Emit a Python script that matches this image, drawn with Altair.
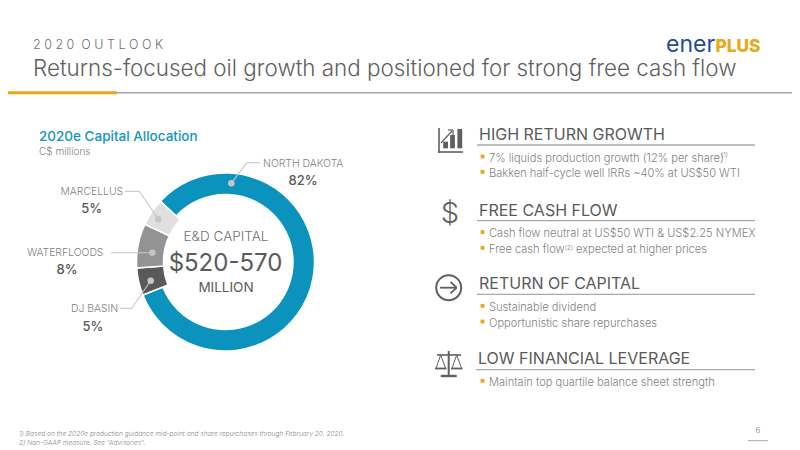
import math
import altair as alt
import pandas as pd

# ---- data ----
regions = ["NORTH DAKOTA", "DJ BASIN", "WATERFLOODS", "MARCELLUS"]
shares = [82, 5, 8, 5]
share_labels = ["82%", "5%", "8%", "5%"]
region_colors = ["#0c93bd", "#595959", "#939393", "#e0e0e0"]
order_idx = [0, 1, 2, 3]

FONT = "Inter"
OX, OY = 8, 8
TEXT_D = "#595959"
TEXT_M = "#828282"
RULE = "#a8a8a8"
GOLD = "#e8a917"


def txt(s, x, y, size, color=TEXT_D, weight=300, align="left", style="normal", font=FONT):
    return alt.Chart(pd.DataFrame({"t": [s]})).mark_text(
        font=font, fontSize=size, fontWeight=weight, color=color, align=align,
        baseline="alphabetic", fontStyle=style,
    ).encode(text="t:N", x=alt.value(x - OX), y=alt.value(y - OY))


def line(x1, y1, x2, y2, color=RULE, width=1.3):
    return alt.Chart(pd.DataFrame({"k": [0]})).mark_rule(
        color=color, strokeWidth=width
    ).encode(x=alt.value(x1 - OX), y=alt.value(y1 - OY), x2=alt.value(x2 - OX), y2=alt.value(y2 - OY))


def dot(x, y, d, color, filled=True, sw=0, shape="circle"):
    return alt.Chart(pd.DataFrame({"k": [0]})).mark_point(
        shape=shape, size=d * d, filled=filled, color=color, opacity=1,
        strokeWidth=sw,
    ).encode(x=alt.value(x - OX), y=alt.value(y - OY))


layers = []

# header
layers += [
    line(8, 92.7, 800, 92.7, "#a6a6a6", 1.5),
    line(8, 92.7, 117, 92.7, GOLD, 3),
    txt("2 0 2 0\u00a0\u00a0O U T L O O K", 33, 49, 12.5, "#6f6f6f"),
    txt("Returns-focused oil growth and positioned for strong free cash flow", 33, 76, 22.4, "#5f5f5f"),
    txt("ener", 666, 51.5, 23, "#1d4d96", 400),
    txt("PLUS", 715.5, 51.5, 17.3, GOLD, 800),
]

# left heading
layers += [
    txt("2020e Capital Allocation", 39, 140.5, 13.5, "#1195c0", 500),
    txt("C$ millions", 39, 155, 10, TEXT_M),
]

# donut
df = pd.DataFrame({"region": regions, "share": shares, "ord": order_idx})
CX, CY = 225.5, 262
START = math.radians(-47)
theta = alt.Theta("a:Q", stack=None, scale=alt.Scale(domain=[0, sum(shares)], range=[START, START + 2 * math.pi]))
base = alt.Chart(df).transform_stack(
    stack="share", as_=["a", "b"], groupby=[], sort=[alt.SortField("ord")]
)
color = alt.Color("region:N", legend=None, scale=alt.Scale(domain=regions, range=region_colors))
center = dict(x=alt.value(CX - OX), y=alt.value(CY - OY))
layers.append(
    base.transform_filter(alt.datum.ord == 0)
    .mark_arc(outerRadius=89, innerRadius=67.5, stroke="white", strokeWidth=1.5)
    .encode(theta=theta, theta2="b:Q", color=color, **center)
)
layers.append(
    base.transform_filter(alt.datum.ord > 0)
    .mark_arc(outerRadius=89, innerRadius=62, stroke="white", strokeWidth=1.5)
    .encode(theta=theta, theta2="b:Q", color=color, **center)
)

# leaders
LEAD = "#c6c6c6"
layers += [
    line(231.3, 183.3, 246.7, 162.7, LEAD, 1.1), line(246.7, 162.7, 260, 162.7, LEAD, 1.1),
    line(158.3, 219.3, 139.3, 191.3, LEAD, 1.1), line(139.3, 191.3, 125, 191.3, LEAD, 1.1),
    line(152.3, 252.7, 110.7, 252.7, LEAD, 1.1),
    line(150.7, 280.7, 131.7, 308.3, LEAD, 1.1), line(131.7, 308.3, 120, 308.3, LEAD, 1.1),
    dot(231.3, 183.3, 6.5, "#c6c6c6"), dot(158.3, 219.3, 6.5, "#c6c6c6"),
    dot(152.3, 252.7, 6.5, "#c6c6c6"), dot(150.7, 280.7, 6.5, "#c6c6c6"),
]

# donut labels
layers += [
    txt(regions[0], 263, 167, 10.4, TEXT_M), txt(share_labels[0], 303, 185, 13, TEXT_D, 500, "center"),
    txt(regions[3], 60.5, 195, 10.4, TEXT_M), txt(share_labels[3], 91.7, 212.5, 13, TEXT_D, 500, "center"),
    txt(regions[2], 27, 256, 10.4, TEXT_M), txt(share_labels[2], 67, 273.5, 13, TEXT_D, 500, "center"),
    txt(regions[1], 71, 312, 10.4, TEXT_M), txt(share_labels[1], 93, 330.5, 13, TEXT_D, 500, "center"),
    txt("E&D CAPITAL", 226, 241, 13.5, "#6f6f6f", 300, "center"),
    txt("$520-570", 225.5, 270.7, 24, "#5a5a5a", 400, "center"),
    txt("MILLION", 226, 291.7, 13.5, "#5a5a5a", 400, "center"),
]

# right side
heads = [
    ("HIGH RETURN GROWTH", 479, 140, 145, 477),
    ("FREE CASH FLOW", 479, 215.7, 220.7, 477),
    ("RETURN OF CAPITAL", 479, 289, 294.3, 477),
    ("LOW FINANCIAL LEVERAGE", 478, 364.3, 369.7, 476),
]
for t, x, y, ry, rx in heads:
    layers.append(txt(t, x, y, 16, "#5a5a5a", 400))
    layers.append(line(rx, ry, 755, ry))

bullets = [
    ("7% liquids production growth (12% per share)", 161.7),
    ("Bakken half-cycle well IRRs ~40% at US$50 WTI", 177),
    ("Cash flow neutral at US$50 WTI & US$2.25 NYMEX", 237.3),
    ("Free cash flow", 253),
    ("Sustainable dividend", 311),
    ("Opportunistic share repurchases", 326.7),
    ("Maintain top quartile balance sheet strength", 386),
]
for t, y in bullets:
    layers.append(txt(t, 489, y, 11.1, TEXT_M))
    layers.append(dot(482.5, y - 5.2, 3.8, GOLD, shape="square"))
layers += [
    txt("(1)", 721, 157, 6.5, TEXT_M),
    txt("(2)", 564.5, 249.5, 6.5, TEXT_M),
    txt("expected at higher prices", 576, 253, 11.1, TEXT_M),
]

# icons
IC = "#5f5f5f"
layers += [
    line(439, 128, 439, 152.7, IC, 1.6), line(438, 152, 463, 152, IC, 1.6),
    line(445.6, 141.7, 445.6, 148.3, IC, 4.8), line(452.5, 135, 452.5, 148.3, IC, 4.8),
    line(459.8, 129, 459.8, 148.3, IC, 4.8),
    line(441, 143, 452, 131, IC, 1.2), line(448, 130, 453, 130, IC, 1.2), line(453, 130, 453, 135, IC, 1.2),
    txt("$", 450, 222.5, 29, IC, 300, "center"),
    dot(448.7, 287.7, 25, IC, filled=False, sw=2),
    line(440, 287.7, 456.7, 287.7, IC, 1.8), line(450.5, 282, 456.7, 287.7, IC, 1.8), line(450.5, 293.4, 456.7, 287.7, IC, 1.8),
    line(448.7, 351, 448.7, 376, IC, 2), line(440.7, 376, 456.7, 376, IC, 2.4), line(437, 355, 461, 355, IC, 1.6),
    line(440.7, 355, 436, 368.3, IC, 1), line(440.7, 355, 445.5, 368.3, IC, 1),
    line(456.7, 355, 452, 368.3, IC, 1), line(456.7, 355, 461.5, 368.3, IC, 1),
    line(435, 368.5, 446.5, 368.5, IC, 1.8), line(451, 368.5, 462.5, 368.5, IC, 1.8),
]

# footer
layers += [
    txt("6", 758, 432.7, 8, "#8c8c8c", 300, "center"),
    line(748, 440.7, 768, 440.7, "#a8a8a8", 1),
    txt("1)  Based on the 2020e production guidance mid-point and share repurchases through February 20, 2020.", 19, 436, 6.6, "#8a8a8a", 300, "left", "italic"),
    txt("2)  Non-GAAP measure. See \u201cAdvisories\u201d.", 19, 445, 6.6, "#8a8a8a", 300, "left", "italic"),
]

chart = alt.layer(*layers).properties(
    width=784, height=442, padding=0, autosize=alt.AutoSizeParams(type="none"),
    background="white",
).configure_view(stroke=None)

chart.save("out.html", embed_options={"renderer": "svg", "actions": False})
